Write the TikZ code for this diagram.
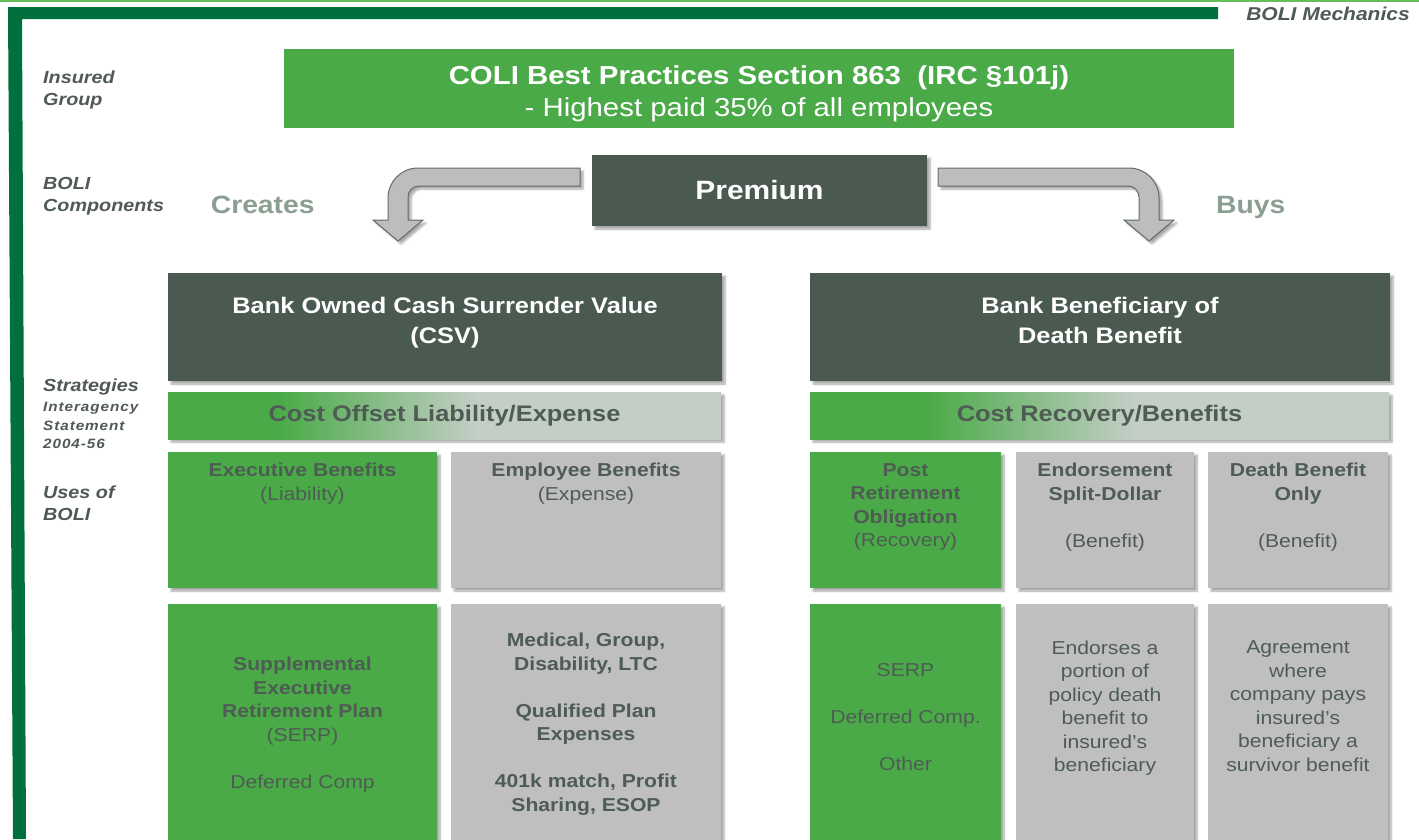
\documentclass[tikz,border=0pt]{standalone}
\usepackage{fontspec}
\setmainfont{Liberation Sans}[FakeStretch=1.13]
\newfontfamily\trackfont{Liberation Sans}[FakeStretch=1.13,LetterSpace=7]
\usetikzlibrary{positioning,shadows.blur}
\definecolor{framegreen}{HTML}{00703C}
\definecolor{rulegreen}{HTML}{64BE5A}
\definecolor{leafgreen}{HTML}{4AAA47}
\definecolor{slate}{HTML}{4A5A50}
\definecolor{stone}{HTML}{BFBFBF}
\definecolor{mist}{HTML}{C3CEC6}
\definecolor{inkgray}{HTML}{4E5C54}
\definecolor{labelgray}{HTML}{505A55}
\definecolor{sage}{HTML}{8A9E91}
\definecolor{arrowgray}{HTML}{BDBDBD}
\definecolor{arrowedge}{HTML}{5E6E65}
\pgfdeclarehorizontalshading{fadebar}{100bp}{color(0bp)=(leafgreen); color(35bp)=(leafgreen); color(53bp)=(mist); color(100bp)=(mist)}
\tikzset{
  block/.style={anchor=north west, inner sep=0pt, outer sep=0pt},
  softshadow/.style={blur shadow={shadow xshift=3pt, shadow yshift=-3pt, shadow blur steps=6, shadow opacity=35}},
  greenbox/.style={block, fill=leafgreen, softshadow},
  greybox/.style={block, fill=stone, softshadow},
  darkbox/.style={block, fill=slate, softshadow, text=white,
    font=\fontsize{26.5}{30}\selectfont\bfseries},
  fadebox/.style={block, shade, shading=fadebar, softshadow, text=inkgray,
    font=\fontsize{22.5}{30}\selectfont\bfseries},
  sidelabel/.style={anchor=north west, inner sep=0pt, align=left, text=labelgray,
    font=\fontsize{17.5}{21.7}\selectfont\bfseries\itshape},
  headtext/.style={anchor=north, inner sep=0pt, align=center, text=white,
    font=\fontsize{22.5}{30}\selectfont\bfseries},
  celltext/.style={anchor=north, inner sep=0pt, align=center, text=inkgray,
    font=\fontsize{18.7}{23.5}\selectfont},
  flowword/.style={anchor=base west, inner sep=0pt, text=sage,
    font=\fontsize{25}{30}\selectfont\bfseries},
  bendarrow/.style={fill=arrowgray, draw=arrowedge, line width=1pt, softshadow}
}
\begin{document}
\begin{tikzpicture}[x=1pt, y=-1pt]
  \useasboundingbox (0,0) rectangle (1419,839);
  \clip (0,0) rectangle (1419,839);

  % slide frame
  \fill[rulegreen] (0,0) rectangle (1419,1.5);
  \fill[framegreen] (8,7) -- (1218,7) -- (1218,19) -- (22,19) -- (26,839) -- (13,839) -- cycle;
  \node[anchor=base east, inner sep=0pt, text=labelgray,
    font=\fontsize{18.6}{22}\selectfont\bfseries\itshape] (title) at (1410,20.7) {BOLI Mechanics};

  % row labels
  \node[sidelabel] (insured) at (43,70.5) {Insured\\Group};
  \node[sidelabel] (components) at (43,177.5) {BOLI\\Components};
  \node[sidelabel] (strategies) at (43,379) {Strategies};
  \node[sidelabel, font=\trackfont\fontsize{13.5}{18.6}\selectfont\bfseries\itshape] (agency) at (43,402) {Interagency\\Statement\\2004-56};
  \node[sidelabel] (uses) at (43,485.5) {Uses of\\BOLI};

  % insured group and premium
  \node[block, fill=leafgreen, minimum width=950pt, minimum height=79pt] (coli) at (284,49) {};
  \node[anchor=north, inner sep=0pt, align=center, text=white,
    font=\fontsize{26}{32}\selectfont, below=16pt of coli.north] (colitext)
    {\textbf{COLI Best Practices Section 863\ \ (IRC \S101j)}\\- Highest paid 35\% of all employees};
  \node[darkbox, minimum width=335pt, minimum height=71pt] (premium) at (592,155) {Premium};

  % bent arrows out of the premium box
  \draw[bendarrow] (580,168) -- (418,168) arc[start angle=270, end angle=180, radius=30]
    -- (388,220) -- (373,220) -- (398,241) -- (423,220) -- (408,220)
    -- (408,197) arc[start angle=180, end angle=270, radius=11] -- (580,186) -- cycle;
  \draw[bendarrow] (938,168) -- (1129,168) arc[start angle=270, end angle=360, radius=30]
    -- (1159,220) -- (1174,220) -- (1149,241) -- (1124,220) -- (1139,220)
    -- (1139,197) arc[start angle=0, end angle=-90, radius=11] -- (938,186) -- cycle;
  \node[flowword] (creates) at (210.7,213.3) {Creates};
  \node[flowword] (buys) at (1216,213.3) {Buys};

  % components
  \node[darkbox, minimum width=554pt, minimum height=108pt] (csv) at (168,273) {};
  \node[headtext, below=23.5pt of csv.north] (csvtext) {Bank Owned Cash Surrender Value\\(CSV)};
  \node[darkbox, minimum width=580pt, minimum height=108pt] (payout) at (810,273) {};
  \node[headtext, below=23.5pt of payout.north] (payouttext) {Bank Beneficiary of\\Death Benefit};

  % strategies
  \node[fadebox, minimum width=553pt, minimum height=47pt] (offset) at (168,392) {Cost Offset Liability/Expense};
  \node[fadebox, minimum width=579pt, minimum height=47pt] (recovery) at (810,392) {Cost Recovery/Benefits};

  % uses, first row
  \node[greenbox, minimum width=269pt, minimum height=136pt] (exec) at (168,452) {};
  \node[greybox, minimum width=270pt, minimum height=136pt] (staff) at (451,452) {};
  \node[greenbox, minimum width=191pt, minimum height=136pt] (post) at (810,452) {};
  \node[greybox, minimum width=178pt, minimum height=136pt] (split) at (1016,452) {};
  \node[greybox, minimum width=180pt, minimum height=136pt] (death) at (1208,452) {};
  \node[celltext, below=11pt of exec.north] (exectext) {\textbf{Executive Benefits}\\(Liability)};
  \node[celltext, below=11pt of staff.north] (stafftext) {\textbf{Employee Benefits}\\(Expense)};
  \node[celltext, below=11pt of post.north] (posttext) {\textbf{Post}\\\textbf{Retirement}\\\textbf{Obligation}\\(Recovery)};
  \node[celltext, below=11pt of split.north] (splittext) {\textbf{Endorsement}\\\textbf{Split-Dollar}\\[23.5pt](Benefit)};
  \node[celltext, below=11pt of death.north] (deathtext) {\textbf{Death Benefit}\\\textbf{Only}\\[23.5pt](Benefit)};

  % uses, second row
  \node[greenbox, minimum width=269pt, minimum height=250pt] (serp) at (168,604) {};
  \node[greybox, minimum width=270pt, minimum height=250pt] (plans) at (451,604) {};
  \node[greenbox, minimum width=191pt, minimum height=250pt] (other) at (810,604) {};
  \node[greybox, minimum width=178pt, minimum height=250pt] (endorse) at (1016,604) {};
  \node[greybox, minimum width=180pt, minimum height=250pt] (survivor) at (1208,604) {};
  \node[celltext, below=53pt of serp.north] (serptext) {\textbf{Supplemental}\\\textbf{Executive}\\\textbf{Retirement Plan}\\(SERP)\\[23.5pt]Deferred Comp};
  \node[celltext, below=29pt of plans.north] (planstext) {\textbf{Medical, Group,}\\\textbf{Disability, LTC}\\[23.5pt]\textbf{Qualified Plan}\\\textbf{Expenses}\\[23.5pt]\textbf{401k match, Profit}\\\textbf{Sharing, ESOP}};
  \node[celltext, below=59.5pt of other.north] (othertext) {SERP\\[23.5pt]Deferred Comp.\\[23.5pt]Other};
  \node[celltext, below=36.5pt of endorse.north] (endorsetext) {Endorses a\\portion of\\policy death\\benefit to\\insured’s\\beneficiary};
  \node[celltext, below=36.5pt of survivor.north] (survivortext) {Agreement\\where\\company pays\\insured’s\\beneficiary a\\survivor benefit};
\end{tikzpicture}
\end{document}
